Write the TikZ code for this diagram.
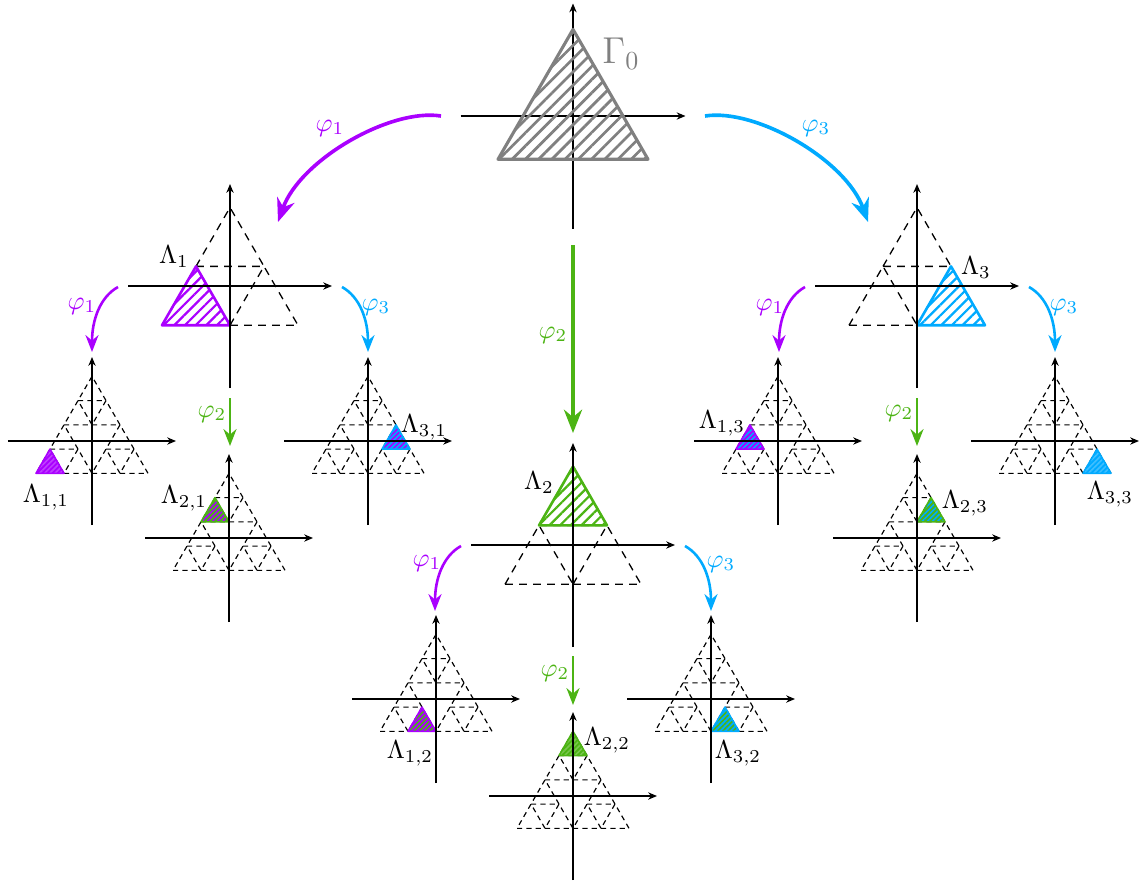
\documentclass[tikz,border=0pt]{standalone}
\usetikzlibrary{arrows.meta,patterns.meta}
\definecolor{cpur}{RGB}{170,0,255}
\definecolor{cblu}{RGB}{0,170,255}
\definecolor{cgrn}{RGB}{76,180,20}
\definecolor{cgry}{RGB}{128,128,128}
\tikzset{
  axis/.style={line width=0.75pt,-{Stealth[length=3.4pt,width=2.8pt]}},
  dashone/.style={line width=0.5pt,dash pattern=on 3pt off 2.4pt},
  dashtwo/.style={line width=0.45pt,dash pattern=on 2pt off 1.6pt},
  bigarr/.style={line width=1.4pt,-{Stealth[length=9pt,width=7pt]}},
  smallarr/.style={line width=1pt,-{Stealth[length=6.5pt,width=5pt]}},
  lab/.style={inner sep=0pt}
}
\newcommand{\myaxes}{\draw[axis] (-1.5,0) -- (1.5,0); \draw[axis] (0,-1.5) -- (0,1.5);}
\newcommand{\gridone}{%
  \foreach \p in {(-1,-0.5774),(0,-0.5774),(-0.5,0.2887)}
    {\draw[dashone] \p -- ++(1,0) -- ++(-0.5,0.8660) -- cycle;}}
\newcommand{\gridtwo}{%
  \foreach \p in {(-1,-0.5774),(-0.5,-0.5774),(0,-0.5774),(0.5,-0.5774),(-0.75,-0.1443),(0.25,-0.1443),(-0.5,0.2887),(0,0.2887),(-0.25,0.7217)}
    {\draw[dashtwo] \p -- ++(0.5,0) -- ++(-0.25,0.4330) -- cycle;}}
% level-1 highlighted triangle: x, y, colour
\newcommand{\hlone}[3]{%
  \fill[pattern={Lines[angle=45,distance=2.9pt,line width=0.85pt]},pattern color=#3] (#1,#2) -- ++(1,0) -- ++(-0.5,0.8660) -- cycle;
  \draw[#3,line width=1pt,line join=round] (#1,#2) -- ++(1,0) -- ++(-0.5,0.8660) -- cycle;}
% level-2 highlighted triangle: x, y, outline colour, stripe colour
\newcommand{\hltwo}[4]{%
  \fill[#3] (#1,#2) -- ++(0.5,0) -- ++(-0.25,0.4330) -- cycle;
  \fill[pattern={Lines[angle=45,distance=1.4pt,line width=0.6pt]},pattern color=#4] (#1,#2) -- ++(0.5,0) -- ++(-0.25,0.4330) -- cycle;
  \draw[#3,line width=0.6pt,line join=round] (#1,#2) -- ++(0.5,0) -- ++(-0.25,0.4330) -- cycle;}
\begin{document}
\begin{tikzpicture}[x=0.385pt,y=-0.385pt]
\useasboundingbox (0,0) rectangle (1145,883);

% ---------- top plot Gamma_0
\begin{scope}[shift={(573,116)},x=28.875pt,y=28.875pt]
  \myaxes
  \fill[pattern={Lines[angle=45,distance=3.6pt,line width=1.05pt]},pattern color=cgry] (-1,-0.5774) -- (1,-0.5774) -- (0,1.1547) -- cycle;
  \draw[cgry,line width=1.2pt,line join=round] (-1,-0.5774) -- (1,-0.5774) -- (0,1.1547) -- cycle;
\end{scope}
\node[lab,text=cgry,font=\Large] (G0) at (621,54) {$\Gamma_0$};

% ---------- level 1
\begin{scope}[shift={(230,286)},x=26.18pt,y=26.18pt]
  \gridone \hlone{-1}{-0.5774}{cpur} \myaxes
\end{scope}
\begin{scope}[shift={(573,545)},x=26.18pt,y=26.18pt]
  \gridone \hlone{-0.5}{0.2887}{cgrn} \myaxes
\end{scope}
\begin{scope}[shift={(917,286)},x=26.18pt,y=26.18pt]
  \gridone \hlone{0}{-0.5774}{cblu} \myaxes
\end{scope}
\node[lab] (L1) at (174,257) {$\Lambda_1$};
\node[lab] (L2) at (539,483) {$\Lambda_2$};
\node[lab] (L3) at (976,268) {$\Lambda_3$};

% ---------- level 2
\begin{scope}[shift={(92,441)},x=21.56pt,y=21.56pt]
  \gridtwo \hltwo{-1}{-0.5774}{cpur}{cpur!75!white} \myaxes
\end{scope}
\begin{scope}[shift={(229,538)},x=21.56pt,y=21.56pt]
  \gridtwo \hltwo{-0.5}{0.2887}{cgrn}{cpur} \myaxes
\end{scope}
\begin{scope}[shift={(368,441)},x=21.56pt,y=21.56pt]
  \gridtwo \hltwo{0.25}{-0.1443}{cblu}{cpur} \myaxes
\end{scope}
\begin{scope}[shift={(436,699)},x=21.56pt,y=21.56pt]
  \gridtwo \hltwo{-0.5}{-0.5774}{cpur}{cgrn} \myaxes
\end{scope}
\begin{scope}[shift={(573,796)},x=21.56pt,y=21.56pt]
  \gridtwo \hltwo{-0.25}{0.7217}{cgrn}{cgrn!75!white} \myaxes
\end{scope}
\begin{scope}[shift={(711,699)},x=21.56pt,y=21.56pt]
  \gridtwo \hltwo{0}{-0.5774}{cblu}{cgrn} \myaxes
\end{scope}
\begin{scope}[shift={(778,441)},x=21.56pt,y=21.56pt]
  \gridtwo \hltwo{-0.75}{-0.1443}{cpur}{cblu} \myaxes
\end{scope}
\begin{scope}[shift={(917,538)},x=21.56pt,y=21.56pt]
  \gridtwo \hltwo{0}{0.2887}{cgrn}{cblu} \myaxes
\end{scope}
\begin{scope}[shift={(1055,441)},x=21.56pt,y=21.56pt]
  \gridtwo \hltwo{0.5}{-0.5774}{cblu}{cblu!75!white} \myaxes
\end{scope}
\node[lab] (L11) at (46,497) {$\Lambda_{1,1}$};
\node[lab] (L21) at (184,498) {$\Lambda_{2,1}$};
\node[lab] (L31) at (424,427) {$\Lambda_{3,1}$};
\node[lab] (L12) at (410,753) {$\Lambda_{1,2}$};
\node[lab] (L22) at (607,740) {$\Lambda_{2,2}$};
\node[lab] (L32) at (738,753) {$\Lambda_{3,2}$};
\node[lab] (L13) at (722,423) {$\Lambda_{1,3}$};
\node[lab] (L23) at (965,503) {$\Lambda_{2,3}$};
\node[lab] (L33) at (1110,494) {$\Lambda_{3,3}$};

% ---------- arrows, top level
\coordinate (t1s) at (441,116); \coordinate (t1e) at (278,222);
\coordinate (t3s) at (705,116); \coordinate (t3e) at (868,222);
\coordinate (t2s) at (573,245); \coordinate (t2e) at (573,433);
\draw[bigarr,cpur] (t1s) .. controls +(-51,-8) and +(22,-62) .. (t1e);
\draw[bigarr,cblu] (t3s) .. controls +(51,-8) and +(-22,-62) .. (t3e);
\draw[bigarr,cgrn] (t2s) -- (t2e);
\node[lab,text=cpur] (p1) at (330,128) {$\varphi_1$};
\node[lab,text=cblu] (p3) at (816,128) {$\varphi_3$};
\node[lab,text=cgrn] (p2) at (553,335) {$\varphi_2$};

% ---------- arrows, level 1
\foreach \cx/\cy/\nm in {230/286/a, 573/545/b, 917/286/c}{
  \coordinate (\nm1s) at (\cx-112,\cy+1);
  \coordinate (\nm1e) at (\cx-138,\cy+66);
  \coordinate (\nm3s) at (\cx+112,\cy+1);
  \coordinate (\nm3e) at (\cx+138,\cy+66);
}
\coordinate (a2s) at (230,398); \coordinate (a2e) at (230,446);
\coordinate (b2s) at (573,656); \coordinate (b2e) at (573,705);
\coordinate (c2s) at (917,398); \coordinate (c2e) at (917,446);
\foreach \nm in {a,b,c}{
  \draw[smallarr,cpur] (\nm1s) .. controls +(-18,10) and +(0,-32) .. (\nm1e);
  \draw[smallarr,cblu] (\nm3s) .. controls +(18,10) and +(0,-32) .. (\nm3e);
  \draw[smallarr,cgrn] (\nm2s) -- (\nm2e);
}
\node[lab,text=cpur] (q1a) at (82,306) {$\varphi_1$};
\node[lab,text=cblu] (q3a) at (376,307) {$\varphi_3$};
\node[lab,text=cgrn] (q2a) at (212,414) {$\varphi_2$};
\node[lab,text=cpur] (q1b) at (427,563) {$\varphi_1$};
\node[lab,text=cblu] (q3b) at (721,564) {$\varphi_3$};
\node[lab,text=cgrn] (q2b) at (555,673) {$\varphi_2$};
\node[lab,text=cpur] (q1c) at (770,307) {$\varphi_1$};
\node[lab,text=cblu] (q3c) at (1064,307) {$\varphi_3$};
\node[lab,text=cgrn] (q2c) at (899,413) {$\varphi_2$};
\end{tikzpicture}
\end{document}
